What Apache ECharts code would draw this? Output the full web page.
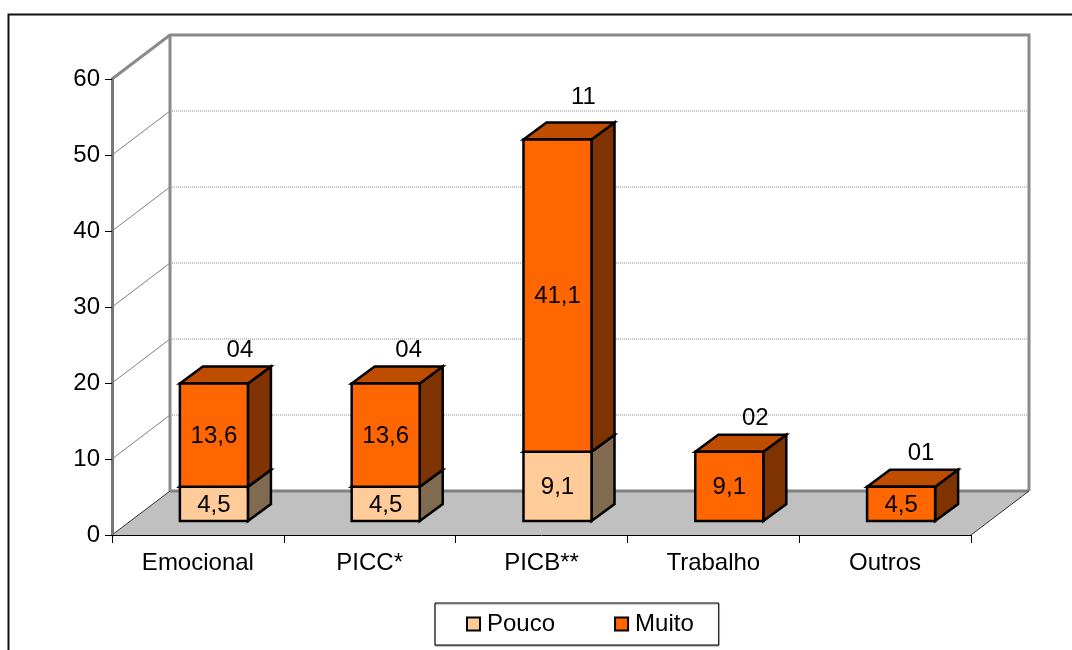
<!DOCTYPE html>
<html>
<head>
<meta charset="utf-8">
<style>html,body{margin:0;padding:0;background:#fff}#chart{width:1072px;height:650px}</style>
<script src="https://cdn.jsdelivr.net/npm/echarts@6/dist/echarts.min.js"></script>
</head>
<body>
<div id="chart"></div>
<script>
// Stacked percentages per category, with the count printed above each column
const categories = ['Emocional', 'PICC*', 'PICB**', 'Trabalho', 'Outros'];
const pouco = [4.5, 4.5, 9.1, 0, 0];
const muito = [13.6, 13.6, 41.1, 9.1, 4.5];
const totals = ['04', '04', '11', '02', '01'];
const yTicks = [0, 10, 20, 30, 40, 50, 60];

// Oblique projection of the box: how far the back wall and the columns recede
const WALL_DX = 58, WALL_DY = -44;
const COL_DX = 23, COL_DY = -17;
const COL_SHIFT_X = 16, COL_SHIFT_Y = -14;
const COL_WIDTH = 0.396;
// Small hand placement of the count labels, per column
const countNudge = [[0, 1], [-3, 1], [0, -8], [0, 1], [-6, 1]];

const FONT = '"Liberation Sans", Arial, sans-serif';
const FS = 24;

function poly(points, fill, stroke, width) {
  return {
    type: 'polygon',
    shape: { points },
    style: { fill, stroke: stroke || null, lineWidth: width || 0, lineJoin: 'miter' }
  };
}
function seg(a, b, stroke, width, dash) {
  return {
    type: 'line',
    shape: { x1: a[0], y1: a[1], x2: b[0], y2: b[1] },
    style: { stroke, lineWidth: width, lineDash: dash || null, fill: null }
  };
}

// Back wall, side wall, floor and gridlines
function renderWalls(params, api) {
  const band = api.size([1, 0])[0];
  const left = api.coord([0, 0])[0] - band / 2;
  const right = api.coord([categories.length - 1, 0])[0] + band / 2;
  const y = v => api.coord([0, v])[1];
  const top = yTicks[yTicks.length - 1];
  const kids = [];
  kids.push(poly([[left, y(0)], [left + WALL_DX, y(0) + WALL_DY], [right + WALL_DX, y(0) + WALL_DY], [right, y(0)]], '#C0C0C0'));
  yTicks.slice(1, -1).forEach(v => {
    kids.push(seg([left, y(v)], [left + WALL_DX, y(v) + WALL_DY], '#808080', 1));
    kids.push(seg([left + WALL_DX, y(v) + WALL_DY], [right + WALL_DX, y(v) + WALL_DY], '#8c8c8c', 1, [1, 1]));
  });
  kids.push(seg([left + WALL_DX, y(0) + WALL_DY], [right + WALL_DX, y(0) + WALL_DY], '#808080', 3));
  kids.push({
    type: 'polyline',
    shape: { points: [[left, y(top)], [left + WALL_DX, y(top) + WALL_DY], [right + WALL_DX, y(top) + WALL_DY], [right + WALL_DX, y(0) + WALL_DY]] },
    style: { stroke: '#8a8a8a', lineWidth: 3, fill: null, lineJoin: 'miter' }
  });
  kids.push(seg([left + WALL_DX, y(top) + WALL_DY], [left + WALL_DX, y(0) + WALL_DY], '#8a8a8a', 3));
  kids.push(seg([left, y(0)], [left + WALL_DX, y(0) + WALL_DY], '#333', 1));
  kids.push(seg([right + 1, y(0) + 1], [right + WALL_DX + 1, y(0) + WALL_DY + 1], '#ffffff', 1));
  kids.push(seg([right, y(0)], [right + WALL_DX, y(0) + WALL_DY], '#333', 1));
  return { type: 'group', children: kids };
}

// One stacked box: front, right side, top and its printed value
function boxRenderer(values, below, colors) {
  return function (params, api) {
    const i = params.dataIndex;
    const v = values[i];
    if (!v) return null;
    const base = below ? below[i] : 0;
    const band = api.size([1, 0])[0];
    const w = band * COL_WIDTH;
    const p0 = api.coord([i, base]);
    const p1 = api.coord([i, base + v]);
    const x0 = p0[0] - w / 2 + COL_SHIFT_X, x1 = x0 + w;
    const yb = p0[1] + COL_SHIFT_Y, yt = p1[1] + COL_SHIFT_Y;
    const kids = [
      poly([[x1, yb], [x1 + COL_DX, yb + COL_DY], [x1 + COL_DX, yt + COL_DY], [x1, yt]], colors.side, '#000', 2.5),
      poly([[x0, yt], [x0 + COL_DX, yt + COL_DY], [x1 + COL_DX, yt + COL_DY], [x1, yt]], colors.top, '#000', 2.5),
      poly([[x0, yb], [x1, yb], [x1, yt], [x0, yt]], colors.front, '#000', 2.5),
      {
        type: 'text',
        style: {
          x: (x0 + x1) / 2, y: (yb + yt) / 2 + 1,
          text: String(v).replace('.', ','),
          fill: '#000', font: `${FS}px ${FONT}`, align: 'center', verticalAlign: 'middle'
        }
      }
    ];
    return { type: 'group', children: kids };
  };
}

// Count printed above each full column
function renderCounts(params, api) {
  const i = params.dataIndex;
  const p = api.coord([i, pouco[i] + muito[i]]);
  const n = countNudge[i];
  return {
    type: 'text',
    style: {
      x: p[0] + COL_SHIFT_X + 26 + n[0],
      y: p[1] + COL_SHIFT_Y + COL_DY - 17 + n[1],
      text: totals[i],
      fill: '#000', font: `${FS}px ${FONT}`, align: 'center', verticalAlign: 'middle'
    }
  };
}

const idx = categories.map((c, i) => i);
const chart = echarts.init(document.getElementById('chart'), null, { renderer: 'canvas' });
chart.setOption({
  animation: false,
  backgroundColor: '#ffffff',
  textStyle: { fontFamily: FONT },
  grid: { left: 112, right: 101, top: 79, bottom: 115, containLabel: false },
  xAxis: {
    type: 'category',
    data: categories,
    boundaryGap: true,
    z: 4,
    axisLine: { show: true, lineStyle: { color: '#000', width: 1 } },
    axisTick: { show: true, alignWithLabel: false, length: 8, lineStyle: { color: '#000', width: 1 } },
    axisLabel: { color: '#000', fontSize: FS, fontFamily: FONT, margin: 16, interval: 0 },
    splitLine: { show: false }
  },
  yAxis: {
    type: 'value',
    min: 0,
    max: 60,
    interval: 10,
    z: 4,
    axisLine: { show: true, lineStyle: { color: '#777', width: 3 } },
    axisTick: { show: true, length: 7, lineStyle: { color: '#000', width: 1 } },
    axisLabel: { color: '#000', fontSize: FS, fontFamily: FONT, margin: 12, padding: [3, 0, 0, 0] },
    splitLine: { show: false }
  },
  legend: {
    show: true,
    left: 435,
    top: 603,
    padding: [9, 25, 9, 31],
    itemGap: 59,
    itemWidth: 13,
    itemHeight: 13,
    icon: 'rect',
    borderColor: '#000',
    borderWidth: 1,
    backgroundColor: '#fff',
    shadowColor: '#999',
    shadowOffsetY: 1,
    shadowBlur: 1,
    textStyle: { color: '#000', fontSize: FS, fontFamily: FONT, padding: [2, 0, 0, 2] },
    data: [
      { name: 'Pouco', itemStyle: { color: '#FFCC99', borderColor: '#000', borderWidth: 2 } },
      { name: 'Muito', itemStyle: { color: '#FF6600', borderColor: '#000', borderWidth: 2 } }
    ]
  },
  graphic: [{
    type: 'polyline',
    silent: true,
    z: -1,
    shape: { points: [[8.5, 650], [8.5, 14.5], [1072, 14.5]] },
    style: { stroke: '#111', lineWidth: 2, fill: null }
  }],
  series: [
    { type: 'custom', name: 'walls', z: 1, silent: true, renderItem: renderWalls, data: [0], encode: { x: 0 }, clip: false },
    {
      type: 'custom', name: 'Pouco', z: 3, clip: false,
      renderItem: boxRenderer(pouco, null, { front: '#FFCC99', side: '#806A50', top: '#BF9A73' }),
      itemStyle: { color: '#FFCC99' }, data: idx, encode: { x: 0 }
    },
    {
      type: 'custom', name: 'Muito', z: 3, clip: false,
      renderItem: boxRenderer(muito, pouco, { front: '#FF6600', side: '#7F3300', top: '#BF4D00' }),
      itemStyle: { color: '#FF6600' }, data: idx, encode: { x: 0 }
    },
    { type: 'custom', name: 'counts', z: 5, clip: false, silent: true, renderItem: renderCounts, data: idx, encode: { x: 0 } }
  ]
});
</script>
</body>
</html>
